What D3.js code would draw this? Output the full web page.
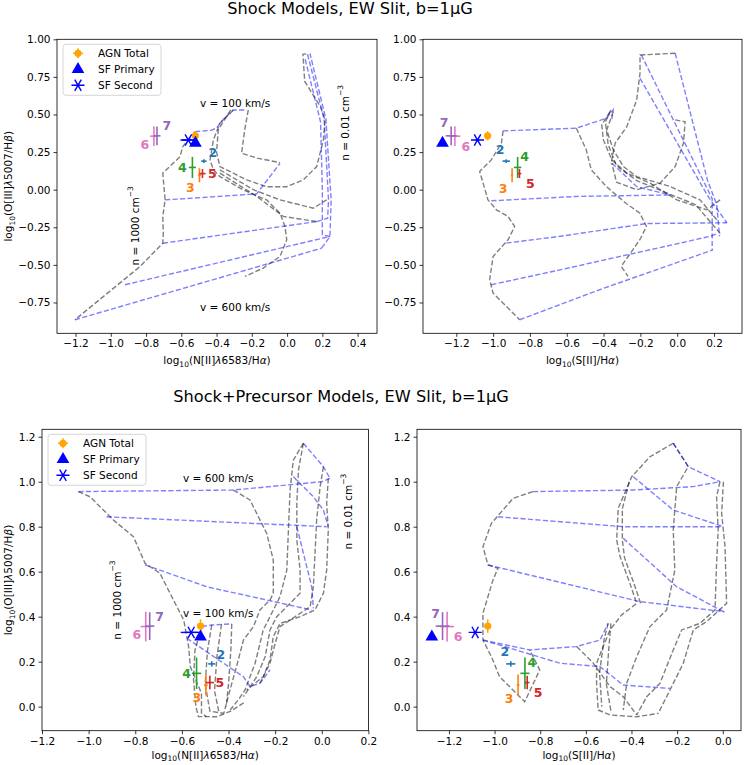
<!DOCTYPE html>
<html>
<head>
<meta charset="utf-8">
<script src="https://cdn.jsdelivr.net/npm/d3@7"></script>
<style>
  body { margin: 0; background: #fff; }
  svg { font-family: 'DejaVu Sans', sans-serif; }
</style>
</head>
<body>
<div id="chart"></div>
<script>
// ---- observed regions ----
const obsIds = ['2', '3', '4', '5', '6', '7']
const obsColors = ['#1f77b4', '#ff7f0e', '#2ca02c', '#d62728', '#e377c2', '#9467bd']
const obsO3 = [0.19, 0.096, 0.148, 0.107, 0.356, 0.358]
const obsO3Err = [0.012, 0.047, 0.07, 0.03, 0.066, 0.062]
const obsN2 = [-0.472, -0.497, -0.537, -0.48, -0.755, -0.738]
const obsN2Err = [0.015, 0.008, 0.02, 0.018, 0.022, 0.02]
const obsS2 = [-0.929, -0.897, -0.867, -0.857, -1.208, -1.228]
const obsS2Err = [0.02, 0.006, 0.02, 0.01, 0.03, 0.03]

// AGN total, SF primary, SF second
const agnTotal = { n2: -0.52, s2: -1.03, o3: 0.358, n2Err: 0.006, s2Err: 0.008, o3Err: 0.03 }
const sfPrimary = { n2: -0.52, s2: -1.275, o3: 0.31 }
const sfSecond = { n2: -0.56, s2: -1.085, o3: 0.33, n2Err: 0.045, s2Err: 0.01 }

// ---- tick values ----
const ticksShockY = [-0.75, -0.5, -0.25, 0, 0.25, 0.5, 0.75, 1.0]
const ticksShockN2 = [-1.2, -1.0, -0.8, -0.6, -0.4, -0.2, 0, 0.2, 0.4]
const ticksShockS2 = [-1.2, -1.0, -0.8, -0.6, -0.4, -0.2, 0, 0.2]
const ticksPrecY = [0, 0.2, 0.4, 0.6, 0.8, 1.0, 1.2]
const ticksPrecN2 = [-1.2, -1.0, -0.8, -0.6, -0.4, -0.2, 0, 0.2]
const ticksPrecS2 = [-1.2, -1.0, -0.8, -0.6, -0.4, -0.2, 0]

// ---- model grids (gray: constant density, blue: constant velocity) ----
const shockN2Gray = [
  [[-0.522, 0.386], [-0.592, 0.286], [-0.607, 0.22], [-0.705, 0.11], [-0.692, -0.068], [-0.705, -0.179], [-0.702, -0.29], [-0.705, -0.356], [-0.834, -0.511], [-1.203, -0.865]],
  [[-0.305, 0.53], [-0.381, 0.442], [-0.418, 0.331], [-0.437, 0.198], [-0.418, 0.132], [-0.381, 0.087], [-0.248, -0.002], [-0.116, -0.068], [-0.04, -0.156], [-0.012, -0.245], [-0.002, -0.333], [-0.04, -0.444], [-0.135, -0.521], [-0.239, -0.577]],
  [[-0.22, 0.53], [-0.24, 0.40], [-0.258, 0.242], [-0.17, 0.21], [-0.04, 0.18]],
  [[-0.32, 0.53], [-0.39, 0.40], [-0.40, 0.25], [-0.381, 0.154], [-0.229, 0.065], [-0.116, 0.02], [-0.002, 0.02], [0.092, 0.065], [0.168, 0.154], [0.206, 0.331], [0.215, 0.464], [0.19, 0.55], [0.10, 0.72], [0.09, 0.90], [0.12, 0.905]],
  [[-0.381, 0.132], [-0.191, 0.0], [-0.04, -0.068], [0.149, -0.123], [0.224, -0.068]],
  [[-0.381, 0.11], [-0.172, -0.045], [-0.021, -0.178], [0.168, -0.212]]
]
const shockN2Blue = [
  [[-0.522, 0.386], [-0.43, 0.395], [-0.40, 0.41], [-0.36, 0.47], [-0.305, 0.53], [-0.23, 0.53]],
  [[-0.692, -0.068], [-0.172, -0.028], [-0.04, 0.176]],
  [[-0.705, -0.356], [0.168, -0.212]],
  [[-0.919, -0.632], [0.243, -0.311]],
  [[-1.203, -0.865], [0.196, -0.389]],
  [[0.196, -0.389], [0.243, -0.311], [0.25, -0.07], [0.22, 0.47], [0.13, 0.905]],
  [[0.168, -0.212], [0.23, -0.19], [0.235, -0.07], [0.21, 0.47], [0.115, 0.905]],
  [[0.243, -0.311], [0.20, -0.30], [0.20, 0.0], [0.19, 0.45], [0.10, 0.88]]
]
const shockS2Gray = [
  [[-0.946, 0.391], [-0.955, 0.309], [-1.01, 0.198], [-1.073, 0.121], [-1.028, -0.068], [-0.982, -0.134], [-0.919, -0.178], [-0.883, -0.245], [-0.919, -0.333], [-1.0, -0.444], [-1.019, -0.599], [-1.0, -0.688], [-0.928, -0.776], [-0.856, -0.865]],
  [[-0.548, 0.409], [-0.494, 0.265], [-0.467, 0.132], [-0.385, 0.021], [-0.279, -0.09], [-0.203, -0.156], [-0.167, -0.245], [-0.203, -0.333], [-0.279, -0.466], [-0.304, -0.51], [-0.267, -0.577]],
  [[-0.011, 0.907], [-0.202, 0.896], [-0.202, 0.774], [-0.22, 0.597], [-0.274, 0.419], [-0.337, 0.309], [-0.36, 0.17]],
  [[-0.011, 0.464], [0.043, 0.452], [0.034, 0.309], [-0.011, 0.154], [-0.093, 0.043], [-0.22, -0.0], [-0.33, 0.05], [-0.355, 0.176]],
  [[-0.365, 0.519], [-0.41, 0.431], [-0.401, 0.331], [-0.355, 0.198], [-0.274, 0.11], [-0.147, 0.043], [-0.002, -0.068], [0.161, -0.134], [0.233, -0.068]],
  [[-0.347, 0.519], [-0.383, 0.397], [-0.347, 0.264], [-0.292, 0.154], [-0.22, 0.087], [-0.039, 0.021], [0.124, -0.068], [0.215, -0.2]],
  [[-0.36, 0.53], [-0.39, 0.45], [-0.375, 0.30], [-0.33, 0.16], [-0.22, 0.06], [-0.08, -0.01], [0.10, -0.10], [0.24, -0.30]]
]
const shockS2Blue = [
  [[-0.946, 0.391], [-0.548, 0.409], [-0.385, 0.475], [-0.348, 0.53], [-0.355, 0.47]],
  [[-1.01, -0.074], [-0.55, -0.045], [-0.039, -0.035]],
  [[-0.928, -0.355], [-0.636, -0.31], [-0.165, -0.225], [0.27, -0.22]],
  [[-1.01, -0.632], [-0.636, -0.533], [0.18, -0.31], [0.22, -0.29]],
  [[-0.856, -0.865], [-0.419, -0.664], [0.195, -0.40]],
  [[-0.195, 0.896], [0.19, -0.06], [0.19, -0.40]],
  [[-0.202, 0.74], [0.17, -0.05], [0.27, -0.22]],
  [[-0.011, 0.907], [0.165, 0.06], [0.215, -0.1], [0.23, -0.31]],
  [[-0.355, 0.176], [-0.22, 0.02], [-0.039, -0.035]]
]
const precN2Gray = [
  [[-1.044, 0.956], [-0.994, 0.933], [-0.894, 0.83], [-0.808, 0.756], [-0.758, 0.637], [-0.694, 0.593], [-0.651, 0.504], [-0.592, 0.385], [-0.571, 0.267], [-0.564, 0.178], [-0.516, 0.059], [-0.516, -0.03], [-0.494, -0.044]],
  [[-0.379, 0.963], [-0.308, 0.919], [-0.279, 0.859], [-0.236, 0.77], [-0.208, 0.652], [-0.208, 0.504], [-0.222, 0.474], [-0.265, 0.43], [-0.293, 0.356], [-0.336, 0.296], [-0.36, 0.2], [-0.40, 0.05], [-0.42, -0.03]],
  [[-0.079, 1.171], [-0.122, 1.096], [-0.136, 0.963], [-0.143, 0.785], [-0.15, 0.607], [-0.179, 0.489], [-0.222, 0.4], [-0.251, 0.341], [-0.265, 0.281], [-0.286, 0.193], [-0.329, 0.074], [-0.358, 0.03], [-0.393, -0.015]],
  [[-0.079, 1.171], [-0.1, 1.052], [-0.107, 0.904], [-0.107, 0.741], [-0.093, 0.607], [-0.093, 0.504], [-0.136, 0.459], [-0.193, 0.4], [-0.222, 0.341], [-0.243, 0.222], [-0.279, 0.133], [-0.336, 0.044]],
  [[0.007, 1.067], [-0.007, 0.978], [-0.022, 0.83], [-0.029, 0.681], [-0.036, 0.533], [-0.05, 0.444], [-0.136, 0.385], [-0.179, 0.356], [-0.2, 0.281], [-0.222, 0.193], [-0.265, 0.104]],
  [[0.028, 1.015], [0.021, 0.904], [0.028, 0.785], [0.021, 0.607], [0.007, 0.504], [-0.029, 0.43], [-0.093, 0.4], [-0.179, 0.37], [-0.208, 0.311], [-0.222, 0.207], [-0.251, 0.133], [-0.322, 0.074]],
  [[-0.515, 0.356], [-0.544, 0.25], [-0.55, 0.12], [-0.54, 0.0], [-0.529, -0.044], [-0.45, -0.045], [-0.39, -0.02], [-0.33, 0.02]],
  [[-0.472, 0.363], [-0.49, 0.25], [-0.50, 0.10], [-0.48, -0.02], [-0.42, -0.03]],
  [[-0.43, 0.366], [-0.45, 0.22], [-0.46, 0.07], [-0.44, -0.03]],
  [[-0.386, 0.368], [-0.39, 0.25], [-0.40, 0.10], [-0.41, 0.0]]
]
const precN2Blue = [
  [[-1.044, 0.956], [-0.379, 0.963], [0.0, 1.0], [0.036, 1.015]],
  [[-0.923, 0.844], [0.021, 0.80]],
  [[-0.758, 0.63], [-0.494, 0.533], [-0.043, 0.43]],
  [[-0.579, 0.304], [-0.336, 0.133], [-0.308, 0.089], [-0.265, 0.104], [-0.222, 0.163]],
  [[-0.515, 0.356], [-0.472, 0.363], [-0.386, 0.368]],
  [[-0.079, 1.171], [0.007, 1.067], [0.035, 1.015]],
  [[-0.122, 1.022], [-0.036, 0.933], [0.007, 0.874], [0.028, 0.8]],
  [[-0.107, 0.8], [-0.043, 0.533], [-0.036, 0.437]]
]
const precS2Gray = [
  [[-0.832, 0.956], [-0.919, 0.926], [-1.014, 0.815], [-1.051, 0.711], [-1.029, 0.63], [-0.985, 0.615], [-1.007, 0.563], [-1.051, 0.415], [-1.051, 0.296], [-1.014, 0.222], [-0.978, 0.133], [-0.868, 0.022], [-0.802, 0.163], [-0.846, 0.252]],
  [[-0.217, 1.171], [-0.319, 1.111], [-0.399, 1.022], [-0.458, 0.882], [-0.465, 0.741], [-0.45, 0.667], [-0.407, 0.548], [-0.377, 0.459], [-0.443, 0.408], [-0.494, 0.341], [-0.524, 0.267], [-0.553, 0.193], [-0.553, 0.104], [-0.546, -0.015]],
  [[-0.217, 1.171], [-0.151, 1.067], [-0.202, 0.978], [-0.217, 0.785], [-0.21, 0.607], [-0.246, 0.43], [-0.319, 0.356], [-0.377, 0.222], [-0.421, 0.104], [-0.436, -0.015]],
  [[-0.012, 1.0], [-0.027, 0.933], [-0.02, 0.785], [-0.027, 0.637], [-0.034, 0.43], [-0.1, 0.37], [-0.18, 0.341], [-0.217, 0.252], [-0.275, 0.104], [-0.333, 0.044], [-0.377, -0.037]],
  [[0.003, 1.0], [-0.005, 0.859], [0.01, 0.711], [0.017, 0.459], [-0.071, 0.378], [-0.129, 0.341], [-0.173, 0.193], [-0.231, 0.074], [-0.283, -0.03]],
  [[-0.64, 0.267], [-0.567, 0.193], [-0.494, 0.089], [-0.436, 0.044], [-0.377, -0.037]],
  [[-0.546, -0.015], [-0.494, -0.037], [-0.377, -0.045], [-0.283, -0.03]],
  [[-0.502, 0.37], [-0.52, 0.30], [-0.54, 0.15], [-0.53, 0.0]],
  [[-0.49, 0.37], [-0.50, 0.25], [-0.51, 0.1], [-0.49, -0.02]],
  [[-0.41, 1.0], [-0.44, 0.88], [-0.44, 0.74], [-0.43, 0.66], [-0.39, 0.55], [-0.36, 0.46]]
]
const precS2Blue = [
  [[-0.832, 0.956], [-0.393, 0.963], [-0.131, 0.978], [-0.012, 1.0]],
  [[-0.985, 0.844], [-0.437, 0.80], [0.0, 0.80]],
  [[-1.029, 0.63], [-0.364, 0.467], [0.008, 0.422]],
  [[-1.051, 0.296], [-0.846, 0.252], [-0.642, 0.267], [-0.538, 0.296], [-0.502, 0.37]],
  [[-1.051, 0.296], [-0.713, 0.193], [-0.538, 0.178], [-0.436, 0.096], [-0.231, 0.081]],
  [[-0.217, 1.171], [-0.151, 1.067], [-0.012, 1.0]],
  [[-0.392, 1.022], [-0.217, 0.874], [0.003, 0.8]],
  [[-0.436, 0.748], [-0.202, 0.533], [0.003, 0.422]]
]

// label offsets for numbered regions (px)
const labelOffN2 = [[9, -9], [-9, 12], [-10, 0], [10, 0], [-9, 8], [10, -10]]
const labelOffS2 = [[-6, -12], [-9, 13], [7, -11], [11, 10], [11, 10], [-7, -13]]

const W = 747, H = 765
const svg = d3.select('#chart').append('svg').attr('width', W).attr('height', H)

const panels = [
  { left: 57, right: 377, top: 39.3, bottom: 333.3, xDom: [-1.305, 0.51], yDom: [-0.955, 1.0],
    xTicks: ticksShockN2, yTicks: ticksShockY, yFmt: '.2f', gray: shockN2Gray, blue: shockN2Blue,
    key: 'n2', obsX: obsN2, obsXErr: obsN2Err, off: labelOffN2, legend: true, ylabel: true,
    xlabel: 'N[II]', xlabDy: 31, notes: [
      { t: 'v = 100 km/s', x: -0.295, y: 0.575 }, { t: 'v = 600 km/s', x: -0.295, y: -0.78 },
      { t: 'n = 1000', x: -0.862, y: -0.24, rot: true }, { t: 'n = 0.01', x: 0.328, y: 0.444, rot: true }] },
  { left: 423, right: 742, top: 39.3, bottom: 333.3, xDom: [-1.381, 0.352], yDom: [-0.955, 1.0],
    xTicks: ticksShockS2, yTicks: ticksShockY, yFmt: '.2f', gray: shockS2Gray, blue: shockS2Blue,
    key: 's2', obsX: obsS2, obsXErr: obsS2Err, off: labelOffS2, xlabel: 'S[II]', xlabDy: 31, notes: [] },
  { left: 42, right: 368.4, top: 429.3, bottom: 730.7, xDom: [-1.2, 0.2], yDom: [-0.107, 1.233],
    xTicks: ticksPrecN2, yTicks: ticksPrecY, yFmt: '.1f', gray: precN2Gray, blue: precN2Blue,
    key: 'n2', obsX: obsN2, obsXErr: obsN2Err, off: labelOffN2, legend: true, ylabel: true,
    xlabel: 'N[II]', xlabDy: 28, notes: [
      { t: 'v = 600 km/s', x: -0.444, y: 1.015 }, { t: 'v = 100 km/s', x: -0.444, y: 0.415 },
      { t: 'n = 1000', x: -0.88, y: 0.474, rot: true }, { t: 'n = 0.01', x: 0.114, y: 0.867, rot: true }] },
  { left: 417, right: 741, top: 429.3, bottom: 730.7, xDom: [-1.34, 0.08], yDom: [-0.107, 1.233],
    xTicks: ticksPrecS2, yTicks: ticksPrecY, yFmt: '.1f', gray: precS2Gray, blue: precS2Blue,
    key: 's2', obsX: obsS2, obsXErr: obsS2Err, off: labelOffS2, xlabel: 'S[II]', xlabDy: 28, notes: [] }
]

// titles
svg.append('text').attr('x', 350).attr('y', 14).attr('text-anchor', 'middle')
  .attr('font-size', 16.2).text('Shock Models, EW Slit, b=1\u03bcG')
svg.append('text').attr('x', 341).attr('y', 402).attr('text-anchor', 'middle')
  .attr('font-size', 16.2).text('Shock+Precursor Models, EW Slit, b=1\u03bcG')

const asterisk = d3.symbol().type(d3.symbolAsterisk).size(120)
const triangle = d3.symbol().type(d3.symbolTriangle).size(70)

panels.forEach((p, i) => {
  const x = d3.scaleLinear().domain(p.xDom).range([p.left, p.right])
  const y = d3.scaleLinear().domain(p.yDom).range([p.bottom, p.top])
  const g = svg.append('g')

  const clipId = 'clip' + i
  svg.append('clipPath').attr('id', clipId).append('rect')
    .attr('x', p.left).attr('y', p.top).attr('width', p.right - p.left).attr('height', p.bottom - p.top)

  const line = d3.line().x(d => x(d[0])).y(d => y(d[1]))
  const grid = g.append('g').attr('clip-path', `url(#${clipId})`)

  grid.selectAll('path.gray').data(p.gray).enter().append('path')
    .attr('class', 'gray').attr('d', line)
    .attr('fill', 'none').attr('stroke', '#000').attr('stroke-opacity', 0.5)
    .attr('stroke-width', 1.4).attr('stroke-dasharray', '5.2,2.3')
  grid.selectAll('path.blue').data(p.blue).enter().append('path')
    .attr('class', 'blue').attr('d', line)
    .attr('fill', 'none').attr('stroke', '#0000ff').attr('stroke-opacity', 0.5)
    .attr('stroke-width', 1.4).attr('stroke-dasharray', '5.2,2.3')

  // annotations
  p.notes.forEach(n => {
    const t = g.append('text').attr('font-size', 10.5).attr('text-anchor', 'middle')
      .attr('dominant-baseline', 'central')
      .attr('transform', `translate(${x(n.x)},${y(n.y)})` + (n.rot ? ' rotate(-90)' : ''))
    t.append('tspan').text(n.t)
    if (n.rot) {
      t.append('tspan').text(' cm')
      t.append('tspan').attr('font-size', 7.5).attr('dy', -5).text('\u22123')
    }
  })

  // numbered regions
  obsIds.forEach((id, k) => {
    const cx = x(p.obsX[k]), cy = y(obsO3[k])
    const c = obsColors[k]
    g.append('line').attr('x1', x(p.obsX[k] - p.obsXErr[k])).attr('x2', x(p.obsX[k] + p.obsXErr[k]))
      .attr('y1', cy).attr('y2', cy).attr('stroke', c).attr('stroke-width', 1.6)
    g.append('line').attr('x1', cx).attr('x2', cx)
      .attr('y1', y(obsO3[k] - obsO3Err[k])).attr('y2', y(obsO3[k] + obsO3Err[k]))
      .attr('stroke', c).attr('stroke-width', 1.6)
    g.append('text').attr('x', cx + p.off[k][0]).attr('y', cy + p.off[k][1])
      .attr('text-anchor', 'middle').attr('dominant-baseline', 'central')
      .attr('font-size', 12.5).attr('font-weight', 'bold').attr('fill', c).text(id)
  })

  // AGN total
  const ax = x(agnTotal[p.key]), ay = y(agnTotal.o3)
  g.append('line').attr('x1', ax).attr('x2', ax).attr('y1', y(agnTotal.o3 - agnTotal.o3Err))
    .attr('y2', y(agnTotal.o3 + agnTotal.o3Err)).attr('stroke', 'orange').attr('stroke-width', 1.5)
  g.append('line').attr('x1', x(agnTotal[p.key] - agnTotal[p.key + 'Err']))
    .attr('x2', x(agnTotal[p.key] + agnTotal[p.key + 'Err'])).attr('y1', ay).attr('y2', ay)
    .attr('stroke', 'orange').attr('stroke-width', 1.5)
  g.append('circle').attr('cx', ax).attr('cy', ay).attr('r', 3.6).attr('fill', 'orange')

  // SF primary
  g.append('path').attr('d', triangle)
    .attr('transform', `translate(${x(sfPrimary[p.key])},${y(sfPrimary.o3)})`).attr('fill', 'blue')

  // SF second
  const sx = x(sfSecond[p.key]), sy = y(sfSecond.o3)
  g.append('line').attr('x1', x(sfSecond[p.key] - sfSecond[p.key + 'Err']))
    .attr('x2', x(sfSecond[p.key] + sfSecond[p.key + 'Err'])).attr('y1', sy).attr('y2', sy)
    .attr('stroke', 'blue').attr('stroke-width', 1.4)
  g.append('path').attr('d', asterisk).attr('transform', `translate(${sx},${sy}) rotate(90)`)
    .attr('fill', 'none').attr('stroke', 'blue').attr('stroke-width', 1.4)

  // axes
  const xAxis = d3.axisBottom(x).tickValues(p.xTicks).tickSize(3.5).tickPadding(3)
    .tickFormat(d3.format('.1f'))
  const yAxis = d3.axisLeft(y).tickValues(p.yTicks).tickSize(3.5).tickPadding(3)
    .tickFormat(d3.format(p.yFmt))
  const gx = g.append('g').attr('transform', `translate(0,${p.bottom})`).call(xAxis)
  const gy = g.append('g').attr('transform', `translate(${p.left},0)`).call(yAxis)
  ;[gx, gy].forEach(a => {
    a.select('.domain').remove()
    a.selectAll('text').attr('font-size', 10.5).attr('font-family', 'DejaVu Sans').attr('fill', '#000')
    a.selectAll('line').attr('stroke', '#000').attr('stroke-width', 0.8)
  })

  g.append('rect').attr('x', p.left).attr('y', p.top)
    .attr('width', p.right - p.left).attr('height', p.bottom - p.top)
    .attr('fill', 'none').attr('stroke', '#000').attr('stroke-width', 0.8)

  // x label
  const xl = g.append('text').attr('x', (p.left + p.right) / 2).attr('y', p.bottom + p.xlabDy)
    .attr('text-anchor', 'middle').attr('font-size', 10.5)
  xl.append('tspan').text('log')
  xl.append('tspan').attr('font-size', 7.5).attr('dy', 2.5).text('10')
  xl.append('tspan').attr('dy', -2.5).text('(' + p.xlabel)
  if (p.key === 'n2') {
    xl.append('tspan').attr('font-style', 'italic').text('\u03bb')
    xl.append('tspan').text('6583/H')
  } else {
    xl.append('tspan').text('/H')
  }
  xl.append('tspan').attr('font-style', 'italic').text('\u03b1')
  xl.append('tspan').text(')')

  // y label
  if (p.ylabel) {
    const yl = g.append('text').attr('text-anchor', 'middle').attr('font-size', 10.5)
      .attr('transform', `translate(12,${(p.top + p.bottom) / 2}) rotate(-90)`)
    yl.append('tspan').text('log')
    yl.append('tspan').attr('font-size', 7.5).attr('dy', 2.5).text('10')
    yl.append('tspan').attr('dy', -2.5).text('(O[III]')
    yl.append('tspan').attr('font-style', 'italic').text('\u03bb')
    yl.append('tspan').text('5007/H')
    yl.append('tspan').attr('font-style', 'italic').text('\u03b2')
    yl.append('tspan').text(')')
  }

  // legend
  if (p.legend) {
    const lx = p.left + 6, ly = p.top + 5
    const lg = g.append('g').attr('transform', `translate(${lx},${ly})`)
    lg.append('rect').attr('width', 98).attr('height', 51).attr('rx', 3)
      .attr('fill', '#fff').attr('fill-opacity', 0.8).attr('stroke', '#ccc').attr('stroke-width', 0.8)
    const entries = ['AGN Total', 'SF Primary', 'SF Second']
    entries.forEach((e, k) => {
      const ey = 9 + k * 16, ex = 15
      if (k === 0) {
        lg.append('line').attr('x1', ex).attr('x2', ex).attr('y1', ey - 5).attr('y2', ey + 5)
          .attr('stroke', 'orange').attr('stroke-width', 1.5)
        lg.append('line').attr('x1', ex - 5).attr('x2', ex + 5).attr('y1', ey).attr('y2', ey)
          .attr('stroke', 'orange').attr('stroke-width', 1.5)
        lg.append('circle').attr('cx', ex).attr('cy', ey).attr('r', 3.6).attr('fill', 'orange')
      } else if (k === 1) {
        lg.append('path').attr('d', triangle).attr('transform', `translate(${ex},${ey})`).attr('fill', 'blue')
      } else {
        lg.append('path').attr('d', asterisk).attr('transform', `translate(${ex},${ey}) rotate(90)`)
          .attr('fill', 'none').attr('stroke', 'blue').attr('stroke-width', 1.4)
      }
      lg.append('text').attr('x', 35).attr('y', ey).attr('dominant-baseline', 'central')
        .attr('font-size', 10.5).text(e)
    })
  }
})
</script>
</body>
</html>
